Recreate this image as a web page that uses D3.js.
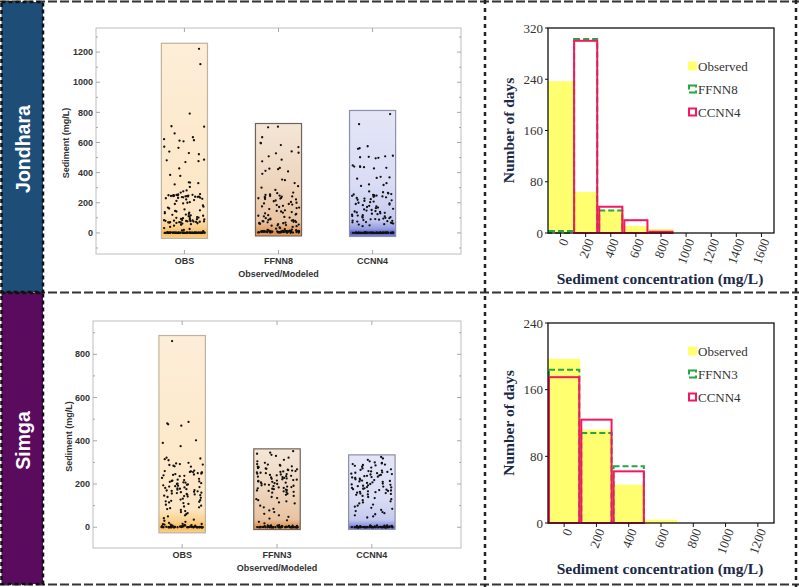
<!DOCTYPE html>
<html><head><meta charset="utf-8">
<script src="https://cdn.jsdelivr.net/npm/d3@7"></script>
<style>body{margin:0;background:#fff}svg{display:block}</style>
</head><body>
<svg id="c" width="799" height="587"></svg>
<script>
// ---------------- DATA ----------------
const stationNames = ["Jondhara", "Simga"];

// Jondhara distribution (mg/L)
const J_cats = ["OBS", "FFNN8", "CCNN4"];
const J_yTicks = [0, 200, 400, 600, 800, 1000, 1200];
const J_obs = [1222,1120,792,708,705,660,635,622,615,612,608,572,565,540,530,522,486,482,476,470,428,385,378,336,334,330,322,305,282,276,268,
 258,255,253,252,251,250,249,248,247,246,245,245,244,243,242,241,240,239,238,236,234,232,230,226,222,218,212,204,200,196,192,182,174,168,162,156,150,146,142,138,134,130,126,122,120,117,114,111,108,105,102,100,98,96,93,91,89,87,85,84,83,81,80,79,78,77,76,75,74,73,72,71,70,69,68,66,64,62,58,54,48,40,32,26,20,16,12,
 0,2,1,0,3,0,1,2,0,1,0,4,0,2,1,0,0,3,1,0,2,0,1,0,0,2,1,0,3,0,1,0,2,0,1,0,0,1,2,0,
 1,0,0,2,0,1,0,0,1,0,2,0,0,1,0,0,1,0,0,2,0,1,0,0,1,0,0,2,1,0];
const J_ffnn8 = [705,701,635,598,595,583,570,541,532,528,508,486,475,431,426,423,412,408,392,354,350,331,310,300,285,268,264,255,252,248,245,242,240,238,235,232,230,228,225,222,215,210,205,200,196,192,188,185,180,176,172,168,165,158,150,146,142,138,134,130,126,122,118,114,110,106,102,98,94,90,86,84,82,80,78,76,74,72,70,68,66,64,62,60,58,55,52,50,48,45,40,36,32,28,25,22,20,18,16,15,14,13,12,12,11,11,10,10,10,9,9,9,8,8,8,8,7,7,7,6,6,6,5,5,5,4,4,4,3,3,3,2,2,2,1,1,
 10,9,8,11,10,9,8,10,12,9,8,10,11,9,10,8,9,10,11,9];
const J_ccnn4 = [789,722,575,562,558,512,508,505,502,498,495,448,442,440,438,436,432,428,372,368,365,360,330,322,318,312,275,270,266,262,258,255,252,250,248,246,244,242,240,236,232,228,224,220,216,212,208,204,200,196,192,188,184,180,176,172,168,164,160,156,152,148,145,142,139,136,133,130,127,124,121,118,115,112,110,108,105,102,100,98,95,92,90,88,85,82,80,78,75,72,70,68,65,62,58,55,50,45,
 0,1,0,2,0,0,1,0,2,0,1,0,0,1,2,0,0,1,0,0,2,1,0,0,1,0,2,0,1,0,0,1,0,2,0,1,0,0,1,0,
 0,0,1,0,0,0,1,0,0,0,1,0,0,0,1,0,0,0,1,0,0,0,1,0,0,0,1,0,0,0];

// Simga distribution (mg/L)
const S_cats = ["OBS", "FFNN3", "CCNN4"];
const S_yTicks = [0, 200, 400, 600, 800];
const S_obs = [861,487,480,476,470,402,390,375,322,318,315,310,298,295,292,290,288,285,282,280,262,260,258,256,255,254,252,250,248,246,244,242,240,238,236,228,224,220,218,216,214,212,210,208,206,204,202,200,198,196,194,192,190,188,186,184,182,180,178,176,174,172,170,168,166,164,162,160,158,156,154,152,150,148,146,144,142,140,136,132,128,125,122,120,118,115,112,108,104,100,96,92,88,84,80,75,70,65,60,55,50,42,35,30,25,20,16,14,12,
 0,3,8,1,12,0,5,2,15,0,4,1,7,0,2,10,0,3,1,6,0,2,9,0,1,4,0,2,11,0,3,1,5,0,2,0,7,1,0,3,
 0,1,0,2,0,0,1,0,3,0,0,1,0,2,0,0,1,0,0,2];
const S_ffnn3 = [352,345,340,335,330,322,312,305,298,292,290,288,285,282,280,278,276,274,272,270,268,266,264,262,260,258,256,254,252,250,248,246,244,242,240,238,236,234,232,230,228,226,224,222,220,218,216,214,212,210,208,206,204,202,200,198,196,194,192,190,188,186,184,182,180,178,176,174,172,170,168,166,164,162,160,155,150,145,140,135,130,125,120,115,110,100,92,85,78,70,62,55,48,40,32,25,18,
 0,4,1,7,0,2,9,0,3,1,5,0,2,8,0,1,4,0,6,2,0,3,1,10,0,2,5,0,1,3,0,7,2,0,4,1,0,6,0,2,
 0,1,0,0,2,0,1,0,0,1,0,2,0,0,1,0,0,1,0,0];
const S_ccnn4 = [325,318,312,305,300,298,295,292,290,288,286,284,280,276,272,268,265,262,260,258,256,254,252,250,248,246,244,242,240,238,236,234,232,230,228,225,222,220,218,216,214,212,210,208,205,202,200,198,196,194,192,190,188,186,184,182,180,178,176,174,172,170,168,166,164,162,160,158,156,154,152,150,145,140,135,130,125,120,115,110,105,100,95,90,85,80,75,70,65,60,55,50,45,
 0,3,1,6,0,2,8,0,4,1,0,5,2,0,7,1,0,3,0,9,2,0,1,4,0,6,0,2,1,0,5,3,0,1,8,0,2,0,4,1,
 0,0,1,0,2,0,0,1,0,0,1,0,0,2,0,0,1,0,0,1];

// Histograms (number of days per 200 mg/L bin)
const HJ_bins = [0, 200, 400, 600, 800, 1000, 1200, 1400, 1600];
const HJ_yTicks = [0, 80, 160, 240, 320];
const HJ_observed = [237, 64, 36, 11, 6, 0, 0, 0, 0];
const HJ_ffnn8 = [3, 303, 35, 0, 0, 0, 0, 0, 0];
const HJ_ccnn4 = [0, 300, 41, 20, 2, 0, 0, 0, 0];
const HJ_legend = ["Observed", "FFNN8", "CCNN4"];

const HS_bins = [0, 200, 400, 600, 800, 1000, 1200];
const HS_yTicks = [0, 80, 160, 240];
const HS_observed = [197, 112, 46, 4, 0, 0, 0];
const HS_ffnn3 = [184, 108, 68, 0, 0, 0, 0];
const HS_ccnn4 = [175, 124, 62, 0, 0, 0, 0];
const HS_legend = ["Observed", "FFNN3", "CCNN4"];

// ---------------- DRAW ----------------
const svg = d3.select("#c");
const defs = svg.append("defs");
const SANS = "'Liberation Sans', Arial, sans-serif";
const SERIF = "'Liberation Serif', 'Times New Roman', serif";

const themes = [
  { border: "#bfb39f", stops: z => [[0,"#fdeed8"],[Math.max(0,z-0.09),"#fde6c4"],[z-0.03,"#fad08a"],[z,"#f7bb5a"],[1,"#fad28e"]] },
  { border: "#6f6459", stops: z => [[0,"#f4e6d8"],[0.5,"#eed6be"],[Math.max(0,z-0.1),"#e9c4a2"],[z-0.03,"#dfa16a"],[z,"#d88a42"],[1,"#e2a46c"]] },
  { border: "#8e8fa9", stops: z => [[0,"#e4e6f7"],[0.6,"#d9dcf4"],[Math.max(0,z-0.1),"#c5c9ef"],[z-0.03,"#929ae1"],[z,"#4b55bd"],[1,"#8088d8"]] }
];

// deterministic horizontal jitter (layout only, not data)
function jitter(i, k) {
  const s = Math.sin(i * 12.9898 + k * 78.233 + 1.7) * 43758.5453;
  return (s - Math.floor(s)) - 0.5;
}

let gradId = 0;
function scatterPanel(o) {
  const g = svg.append("g");
  const y = d3.scaleLinear().domain(o.yDomain).range([o.y1, o.y0]);
  const x = d3.scalePoint().domain(o.cats).range([o.x0, o.x1]).padding(0.94);
  const step = x.step();
  const bw = step * 0.49;
  g.append("rect").attr("x", o.x0).attr("y", o.y0).attr("width", o.x1 - o.x0).attr("height", o.y1 - o.y0)
    .attr("fill", "none").attr("stroke", "#bdbdbd").attr("stroke-width", 1);
  const minor = d3.range(o.yDomain[0] < 0 ? -100 : 0, o.yDomain[1], 100).filter(v => y(v) > o.y0 + 1 && y(v) < o.y1 - 1);
  minor.forEach(v => {
    const major = o.ticks.includes(v);
    const L = major ? 4 : 2;
    g.append("line").attr("x1", o.x0).attr("x2", o.x0 + L).attr("y1", y(v)).attr("y2", y(v)).attr("stroke", "#a8a8a8");
    g.append("line").attr("x1", o.x1).attr("x2", o.x1 - L).attr("y1", y(v)).attr("y2", y(v)).attr("stroke", "#a8a8a8");
  });
  o.cats.forEach(c => {
    g.append("line").attr("x1", x(c)).attr("x2", x(c)).attr("y1", o.y1).attr("y2", o.y1 - 4).attr("stroke", "#a8a8a8");
    g.append("line").attr("x1", x(c)).attr("x2", x(c)).attr("y1", o.y0).attr("y2", o.y0 + 4).attr("stroke", "#a8a8a8");
  });
  g.selectAll(".yl").data(o.ticks).join("text")
    .attr("x", o.x0 - 3).attr("y", d => y(d)).attr("dy", "0.35em").attr("text-anchor", "end")
    .attr("font-family", SANS).attr("font-weight", "bold").attr("font-size", 9).attr("fill", "#333").text(d => d);
  g.selectAll(".xl").data(o.cats).join("text")
    .attr("x", d => x(d)).attr("y", o.y1 + 10).attr("text-anchor", "middle")
    .attr("font-family", SANS).attr("font-weight", "bold").attr("font-size", 9).attr("fill", "#333").text(d => d);
  g.append("text").attr("x", (o.x0 + o.x1) / 2).attr("y", o.y1 + 23).attr("text-anchor", "middle")
    .attr("font-family", SANS).attr("font-weight", "bold").attr("font-size", 9).attr("fill", "#333").text("Observed/Modeled");
  g.append("text").attr("transform", `translate(${o.yTitleX},${(o.y0 + o.y1) / 2 + 2}) rotate(-90)`)
    .attr("text-anchor", "middle").attr("dy", "0.35em")
    .attr("font-family", SANS).attr("font-weight", "bold").attr("font-size", 9).attr("fill", "#333").text("Sediment (mg/L)");
  o.series.forEach((vals, k) => {
    const cx = x(o.cats[k]);
    const mn = d3.min(vals), mx = d3.max(vals);
    const pad = 0.03 * (mx - mn);
    const top = y(mx + pad), bot = y(mn - pad);
    const z = (y(0) - top) / (bot - top);
    const id = "gr" + (gradId++);
    const lg = defs.append("linearGradient").attr("id", id).attr("x1", 0).attr("x2", 0).attr("y1", 0).attr("y2", 1);
    themes[k].stops(z).forEach(s => lg.append("stop").attr("offset", Math.max(0, Math.min(1, s[0]))).attr("stop-color", s[1]));
    g.append("rect").attr("x", cx - bw / 2).attr("y", top).attr("width", bw).attr("height", bot - top)
      .attr("fill", `url(#${id})`).attr("stroke", themes[k].border).attr("stroke-width", 1.2);
    g.selectAll(null).data(vals).join("circle")
      .attr("cx", (d, i) => cx + jitter(i, k + gradId) * bw * 0.9).attr("cy", d => y(d)).attr("r", 1.15).attr("fill", "#111");
  });
}

function histPanel(o) {
  const g = svg.append("g");
  const x = d3.scaleBand().domain(o.bins).range([o.x0, o.x1]).padding(0);
  const y = d3.scaleLinear().domain([0, o.ticks[o.ticks.length - 1]]).range([o.y1, o.y0]);
  const bw = x.bandwidth();
  g.selectAll(null).data(o.bins.map((b, i) => [b, o.obs[i]]).filter(d => d[1] > 0)).join("rect")
    .attr("x", d => x(d[0])).attr("y", d => y(d[1])).attr("width", bw).attr("height", d => y(0) - y(d[1]))
    .attr("fill", "#ffff70");
  g.selectAll(null).data(o.bins.map((b, i) => [b, o.ffnn[i]]).filter(d => d[1] > 0)).join("rect")
    .attr("x", d => x(d[0]) + 1).attr("y", d => y(d[1])).attr("width", bw - 2).attr("height", d => y(0) - y(d[1]))
    .attr("fill", "none").attr("stroke", "#22a845").attr("stroke-width", 2).attr("stroke-dasharray", "6,3");
  g.selectAll(null).data(o.bins.map((b, i) => [b, o.ccnn[i]]).filter(d => d[1] > 0)).join("rect")
    .attr("x", d => x(d[0]) + 1).attr("y", d => y(d[1])).attr("width", bw - 2).attr("height", d => y(0) - y(d[1]))
    .attr("fill", "none").attr("stroke", "#f5175f").attr("stroke-width", 2);
  g.append("rect").attr("x", o.x0).attr("y", o.y0).attr("width", o.x1 - o.x0).attr("height", o.y1 - o.y0)
    .attr("fill", "none").attr("stroke", "#111").attr("stroke-width", 1.3);
  o.ticks.forEach(t => {
    g.append("line").attr("x1", o.x0 - 3).attr("x2", o.x0).attr("y1", y(t)).attr("y2", y(t)).attr("stroke", "#111");
    g.append("text").attr("x", o.x0 - 5).attr("y", y(t)).attr("dy", "0.35em").attr("text-anchor", "end")
      .attr("font-family", SERIF).attr("font-size", 13).attr("fill", "#333").text(t);
  });
  o.bins.forEach(b => {
    const cx = x(b) + bw / 2;
    g.append("line").attr("x1", cx).attr("x2", cx).attr("y1", o.y1).attr("y2", o.y1 + 4).attr("stroke", "#111");
    g.append("text").attr("transform", `translate(${cx + 4},${o.y1 + 6}) rotate(-70)`)
      .attr("text-anchor", "end").attr("dy", "0.35em")
      .attr("font-family", SERIF).attr("font-size", 13).attr("fill", "#333").text(b);
  });
  g.append("text").attr("x", 660).attr("y", o.y1 + 51).attr("text-anchor", "middle")
    .attr("font-family", SERIF).attr("font-weight", "bold").attr("font-size", 15.5).attr("fill", "#1c2a4a")
    .text("Sediment concentration (mg/L)");
  g.append("text").attr("transform", `translate(509,${(o.y0 + o.y1) / 2}) rotate(-90)`)
    .attr("text-anchor", "middle").attr("dy", "0.35em")
    .attr("font-family", SERIF).attr("font-weight", "bold").attr("font-size", 15.5).attr("fill", "#1c2a4a")
    .text("Number of days");
  o.legend.forEach((name, i) => {
    const ly = o.legY + i * 23;
    if (i === 0) g.append("rect").attr("x", 688).attr("y", ly - 4.5).attr("width", 9).attr("height", 9).attr("fill", "#ffff70");
    if (i === 1) g.append("rect").attr("x", 689).attr("y", ly - 3.5).attr("width", 7).attr("height", 7)
      .attr("fill", "none").attr("stroke", "#22a845").attr("stroke-width", 2).attr("stroke-dasharray", "9,3");
    if (i === 2) g.append("rect").attr("x", 689).attr("y", ly - 3.5).attr("width", 7).attr("height", 7)
      .attr("fill", "none").attr("stroke", "#f5175f").attr("stroke-width", 2);
    g.append("text").attr("x", 698).attr("y", ly).attr("dy", "0.35em")
      .attr("font-family", SERIF).attr("font-size", 13).attr("fill", "#333").text(name);
  });
}

scatterPanel({ x0: 96, x1: 461, y0: 28, y1: 254, yDomain: [-140, 1360], ticks: J_yTicks, cats: J_cats,
  series: [J_obs, J_ffnn8, J_ccnn4], yTitleX: 66 });
scatterPanel({ x0: 93, x1: 461, y0: 321, y1: 548, yDomain: [-96, 954], ticks: S_yTicks, cats: S_cats,
  series: [S_obs, S_ffnn3, S_ccnn4], yTitleX: 69 });

histPanel({ x0: 548, x1: 774, y0: 28, y1: 233, bins: HJ_bins, ticks: HJ_yTicks,
  obs: HJ_observed, ffnn: HJ_ffnn8, ccnn: HJ_ccnn4, legend: HJ_legend, legY: 66 });
histPanel({ x0: 548, x1: 774, y0: 323, y1: 523, bins: HS_bins, ticks: HS_yTicks,
  obs: HS_observed, ffnn: HS_ffnn3, ccnn: HS_ccnn4, legend: HS_legend, legY: 351 });

// ---------------- BORDERS & SIDE LABELS ----------------
const b = svg.append("g");
[1.5, 292.5, 584.5].forEach(yy => b.append("line").attr("x1", 0).attr("x2", 799).attr("y1", yy).attr("y2", yy)
  .attr("stroke", "#333").attr("stroke-width", 2).attr("stroke-dasharray", "9,3"));
[485, 796].forEach(xx => b.append("line").attr("x1", xx).attr("x2", xx).attr("y1", 0).attr("y2", 587)
  .attr("stroke", "#222").attr("stroke-width", 2.5).attr("stroke-dasharray", "4,4"));
const sideColors = ["#1e4d78", "#5b0b5e"];
const sideBoxes = [[2, 292], [293, 584]];
stationNames.forEach((nm, i) => {
  const [t, bt] = sideBoxes[i];
  b.append("rect").attr("x", 1.5).attr("y", t).attr("width", 41.5).attr("height", bt - t)
    .attr("fill", sideColors[i]).attr("stroke", "#111").attr("stroke-width", 2.5).attr("stroke-dasharray", "4,3");
  b.append("text").attr("transform", `translate(23,${(t + bt) / 2 + 2}) rotate(-90)`)
    .attr("text-anchor", "middle").attr("dy", "0.35em")
    .attr("font-family", SANS).attr("font-weight", "bold").attr("font-size", 19.5).attr("fill", "#fff").text(nm);
});
</script>
</body></html>
